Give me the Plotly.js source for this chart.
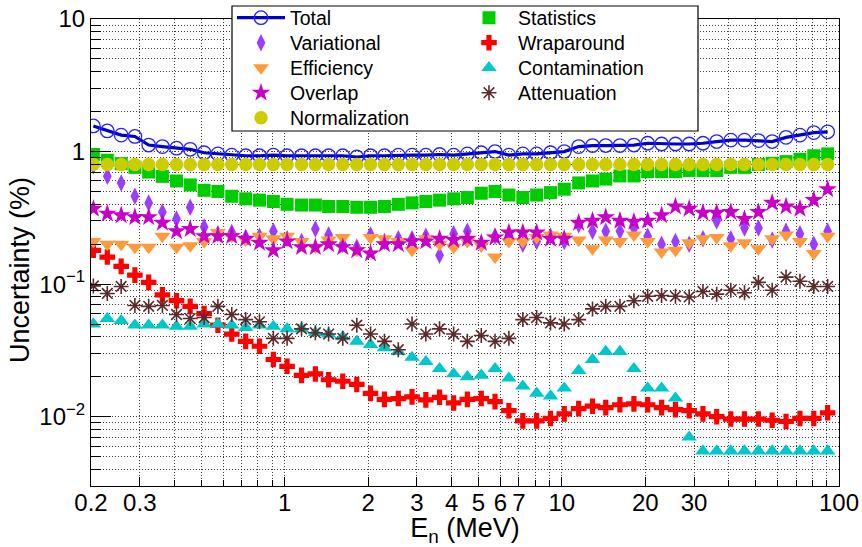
<!DOCTYPE html>
<html>
<head>
<meta charset="utf-8">
<script src="https://cdn.plot.ly/plotly-3.0.1.min.js"></script>
<style>
  html, body { margin: 0; padding: 0; background: #ffffff; }
  #chart { width: 862px; height: 547px; }
</style>
</head>
<body>
<div id="chart"></div>
<script>
// Neutron energy bin centres (MeV)
const energy = [0.204, 0.229, 0.257, 0.288, 0.323, 0.362, 0.407, 0.456, 0.512, 0.574,
  0.644, 0.723, 0.811, 0.910, 1.02, 1.15, 1.29, 1.44, 1.62, 1.82,
  2.04, 2.29, 2.57, 2.88, 3.23, 3.62, 4.07, 4.56, 5.12, 5.74,
  6.44, 7.23, 8.11, 9.10, 10.2, 11.5, 12.9, 14.4, 16.2, 18.2,
  20.4, 22.9, 25.7, 28.8, 32.3, 36.2, 40.7, 45.6, 51.2, 57.4,
  64.4, 72.3, 81.1, 91.0];

// Relative uncertainties (%)
const total = [1.56, 1.43, 1.33, 1.30, 1.12, 1.09, 1.06, 1.04, 0.98, 0.96,
  0.94, 0.93, 0.93, 0.94, 0.93, 0.93, 0.93, 0.93, 0.93, 0.91,
  0.93, 0.93, 0.94, 0.94, 0.94, 0.95, 0.94, 0.96, 0.98, 1.00,
  0.94, 0.96, 0.96, 0.98, 1.00, 1.09, 1.11, 1.11, 1.11, 1.12,
  1.155, 1.14, 1.14, 1.14, 1.155, 1.19, 1.22, 1.22, 1.21, 1.19,
  1.28, 1.33, 1.39, 1.41];

const statistics = [0.95, 0.86, 0.81, 0.76, 0.70, 0.65, 0.60, 0.56, 0.51, 0.50,
  0.46, 0.44, 0.43, 0.42, 0.40, 0.395, 0.395, 0.385, 0.385, 0.38,
  0.38, 0.385, 0.40, 0.41, 0.42, 0.43, 0.44, 0.45, 0.485, 0.50,
  0.47, 0.45, 0.47, 0.49, 0.52, 0.58, 0.60, 0.62, 0.655, 0.655,
  0.705, 0.705, 0.705, 0.72, 0.72, 0.72, 0.76, 0.76, 0.80, 0.815,
  0.84, 0.875, 0.93, 0.96];

const variational = [0.78, 0.65, 0.58, 0.46, 0.41, 0.35, 0.31, 0.38, 0.27, 0.24,
  0.245, 0.225, 0.23, 0.25, 0.22, 0.21, 0.26, 0.235, 0.20, 0.19,
  0.235, 0.21, 0.22, 0.22, 0.23, 0.165, 0.24, 0.25, 0.20, 0.23,
  0.22, 0.20, 0.21, 0.23, 0.21, 0.28, 0.25, 0.25, 0.25, 0.265,
  0.23, 0.20, 0.21, 0.20, 0.22, 0.30, 0.22, 0.265, 0.265, 0.215,
  0.25, 0.24, 0.20, 0.25];

const wraparound = [0.18, 0.16, 0.136, 0.117, 0.103, 0.083, 0.075, 0.068, 0.060, 0.049,
  0.042, 0.037, 0.034, 0.027, 0.024, 0.0205, 0.021, 0.019, 0.0185, 0.0175,
  0.0150, 0.0135, 0.0137, 0.0141, 0.0134, 0.0140, 0.0127, 0.0135, 0.0137, 0.0130,
  0.0111, 0.0093, 0.0093, 0.0097, 0.0105, 0.0115, 0.0120, 0.0117, 0.0123, 0.0125,
  0.0123, 0.0117, 0.0113, 0.0111, 0.0105, 0.0100, 0.0096, 0.0096, 0.0096, 0.0094,
  0.0092, 0.0097, 0.0097, 0.0107];

const efficiency = [0.21, 0.20, 0.20, 0.19, 0.19, 0.23, 0.19, 0.195, 0.21, 0.245,
  0.23, 0.215, 0.23, 0.22, 0.23, 0.21, 0.19, 0.215, 0.225, 0.18,
  0.225, 0.22, 0.21, 0.18, 0.22, 0.20, 0.19, 0.21, 0.195, 0.16,
  0.21, 0.21, 0.225, 0.235, 0.23, 0.215, 0.185, 0.215, 0.21, 0.235,
  0.21, 0.175, 0.18, 0.205, 0.22, 0.225, 0.195, 0.205, 0.185, 0.22,
  0.235, 0.21, 0.17, 0.23];

const contamination = [0.050, 0.055, 0.053, 0.049, 0.049, 0.049, 0.048, 0.048, 0.050, 0.050,
  0.049, 0.047, 0.049, 0.048, 0.046, 0.046, 0.043, 0.042, 0.040, 0.037,
  0.035, 0.033, 0.031, 0.028, 0.026, 0.023, 0.021, 0.020, 0.0205, 0.023,
  0.0195, 0.0170, 0.0150, 0.0143, 0.0164, 0.0223, 0.027, 0.031, 0.031, 0.023,
  0.0164, 0.0164, 0.0138, 0.0070, 0.0055, 0.0055, 0.0055, 0.0055, 0.0055, 0.0055,
  0.0055, 0.0055, 0.0055, 0.0055];

const overlap = [0.37, 0.34, 0.33, 0.32, 0.32, 0.29, 0.25, 0.26, 0.23, 0.23,
  0.23, 0.22, 0.205, 0.18, 0.21, 0.19, 0.19, 0.20, 0.19, 0.18,
  0.17, 0.20, 0.20, 0.21, 0.21, 0.22, 0.215, 0.22, 0.205, 0.225,
  0.245, 0.245, 0.245, 0.22, 0.22, 0.29, 0.30, 0.32, 0.30, 0.295,
  0.30, 0.33, 0.385, 0.37, 0.345, 0.345, 0.35, 0.31, 0.35, 0.41,
  0.385, 0.37, 0.43, 0.52];

const attenuation = [0.097, 0.085, 0.096, 0.069, 0.068, 0.069, 0.059, 0.055, 0.056, 0.068,
  0.059, 0.054, 0.052, 0.039, 0.039, 0.046, 0.043, 0.042, 0.039, 0.049,
  0.042, 0.037, 0.032, 0.050, 0.042, 0.046, 0.042, 0.037, 0.041, 0.037,
  0.039, 0.054, 0.056, 0.051, 0.050, 0.054, 0.065, 0.068, 0.068, 0.075,
  0.081, 0.082, 0.081, 0.080, 0.088, 0.084, 0.090, 0.086, 0.103, 0.090,
  0.113, 0.105, 0.096, 0.096];

const normalization = [0.8, 0.8, 0.8, 0.8, 0.8, 0.8, 0.8, 0.8, 0.8, 0.8,
  0.8, 0.8, 0.8, 0.8, 0.8, 0.8, 0.8, 0.8, 0.8, 0.8,
  0.8, 0.8, 0.8, 0.8, 0.8, 0.8, 0.8, 0.8, 0.8, 0.8,
  0.8, 0.8, 0.8, 0.8, 0.8, 0.8, 0.8, 0.8, 0.8, 0.8,
  0.8, 0.8, 0.8, 0.8, 0.8, 0.8, 0.8, 0.8, 0.8, 0.8,
  0.8, 0.8, 0.8, 0.8];

// Axis tick labels
const xTickVals = [0.2, 0.3, 1, 2, 3, 4, 5, 6, 7, 10, 20, 30, 100];
const xTickText = ['0.2', '0.3', '1', '2', '3', '4', '5', '6', '7', '10', '20', '30', '100'];
const yTickVals = [0.01, 0.1, 1, 10];
const yTickText = ['10<sup>\u22122</sup>', '10<sup>\u22121</sup>', '1', '10'];

// Unlabelled log-decade ticks (also carry the dotted grid)
const xMinorVals = [0.4, 0.5, 0.6, 0.7, 0.8, 0.9, 8, 9, 40, 50, 60, 70, 80, 90];
const yMinorVals = [];
[0.001, 0.01, 0.1, 1].forEach(function (dec) {
  for (let k = 2; k <= 9; k++) {
    const v = +(k * dec).toPrecision(3);
    if (v >= 0.003 && v < 10) yMinorVals.push(v);
  }
});

const FONT = 'Liberation Sans, Arial, Helvetica, sans-serif';

function series(name, y, legendId, marker, extra) {
  return Object.assign({
    type: 'scatter', mode: 'markers', name: name,
    x: energy, y: y, legend: legendId, marker: marker,
    hoverinfo: 'skip', cliponaxis: true
  }, extra || {});
}

// Draw order follows the legend order
const traces = [
  series('Total', total, 'legend',
    { symbol: 'circle-open', size: 13.5, color: '#2323ff', line: { width: 1.3, color: '#2323ff' } },
    { mode: 'lines+markers', line: { color: '#0000cc', width: 3.2 } }),
  series('Statistics', statistics, 'legend',
    { symbol: 'square', size: 13, color: '#00cc00' }),
  series('Variational', variational, 'legend2',
    { symbol: 'diamond-tall', size: 12.5, color: '#9a3dff' }),
  series('Wraparound', wraparound, 'legend2',
    { symbol: 'cross', size: 13, color: '#ff0000' }),
  series('Efficiency', efficiency, 'legend3',
    { symbol: 'triangle-down', size: 14, color: '#ff9a3c' }),
  series('Contamination', contamination, 'legend3',
    { symbol: 'triangle-up', size: 13.5, color: '#00c8c8' }),
  series('Overlap', overlap, 'legend4',
    { symbol: 'star', size: 14, color: '#c800c8' }),
  series('Attenuation', attenuation, 'legend4',
    { symbol: 'asterisk-open', size: 12.5, color: '#5c2a2a', line: { width: 1.6, color: '#5c2a2a' } }),
  series('Normalization', normalization, 'legend5',
    { symbol: 'circle', size: 13.5, color: '#cccc00' })
];

// One legend per row, two columns: marker centres at 29 px, second column 228 px further right
function rowLegend(yPaper) {
  return {
    orientation: 'h', x: 0.1885, xanchor: 'left', y: yPaper, yanchor: 'middle',
    bgcolor: 'rgba(0,0,0,0)', borderwidth: 0, itemwidth: 48,
    entrywidth: 165, entrywidthmode: 'pixels', traceorder: 'normal',
    font: { family: FONT, size: 19.5, color: '#000' }
  };
}

const gridDash = '1px,2px';
const gridColor = 'rgba(0,0,0,0.75)';

const layout = {
  width: 862, height: 547,
  margin: { l: 91, r: 23, t: 19, b: 61, pad: 0, autoexpand: false },
  paper_bgcolor: '#ffffff', plot_bgcolor: '#ffffff',
  font: { family: FONT, color: '#000' },
  showlegend: true,
  legend: rowLegend(1.0021),
  legend2: rowLegend(0.9486),
  legend3: rowLegend(0.8951),
  legend4: rowLegend(0.8415),
  legend5: rowLegend(0.7880),
  xaxis: {
    type: 'log', range: [Math.log10(0.2), 2], autorange: false,
    tickmode: 'array', tickvals: xTickVals, ticktext: xTickText,
    ticks: 'inside', ticklen: 9, tickwidth: 1, tickcolor: '#000',
    ticklabelstandoff: -5,
    tickfont: { family: FONT, size: 24, color: '#000' },
    showline: true, linecolor: '#000', linewidth: 1, mirror: true,
    showgrid: true, gridcolor: gridColor, griddash: gridDash, gridwidth: 1,
    zeroline: false,
    minor: { tickmode: 'array', tickvals: xMinorVals, ticks: 'inside', ticklen: 6,
      tickcolor: '#000', showgrid: true, gridcolor: gridColor, griddash: gridDash, gridwidth: 1 },
    title: { text: 'E<sub>n</sub> (MeV)', font: { family: FONT, size: 27, color: '#000' }, standoff: 16 }
  },
  yaxis: {
    type: 'log', range: [Math.log10(0.003), 1], autorange: false,
    tickmode: 'array', tickvals: yTickVals, ticktext: yTickText,
    ticks: 'inside', ticklen: 20, tickwidth: 1, tickcolor: '#000',
    tickfont: { family: FONT, size: 24, color: '#000' },
    showline: true, linecolor: '#000', linewidth: 1, mirror: true,
    showgrid: true, gridcolor: gridColor, griddash: gridDash, gridwidth: 1,
    zeroline: false,
    minor: { tickmode: 'array', tickvals: yMinorVals, ticks: 'inside', ticklen: 10,
      tickcolor: '#000', showgrid: true, gridcolor: gridColor, griddash: gridDash, gridwidth: 1 }
  },
  annotations: [{
    // vertical axis title, sitting a little below the plot's mid-height
    text: 'Uncertainty (%)', textangle: -90,
    xref: 'paper', yref: 'paper', x: -0.0949, y: 0.4625,
    xanchor: 'center', yanchor: 'middle', showarrow: false,
    font: { family: FONT, size: 27, color: '#000' }
  }],
  shapes: [{
    type: 'rect', xref: 'paper', yref: 'paper', layer: 'above',
    x0: 0.1885, x1: 0.8115, y0: 0.7602, y1: 1.0278,
    fillcolor: '#ffffff', line: { color: '#000', width: 1.2 }
  }]
};

Plotly.newPlot('chart', traces, layout, { staticPlot: true, displayModeBar: false });
</script>
</body>
</html>
